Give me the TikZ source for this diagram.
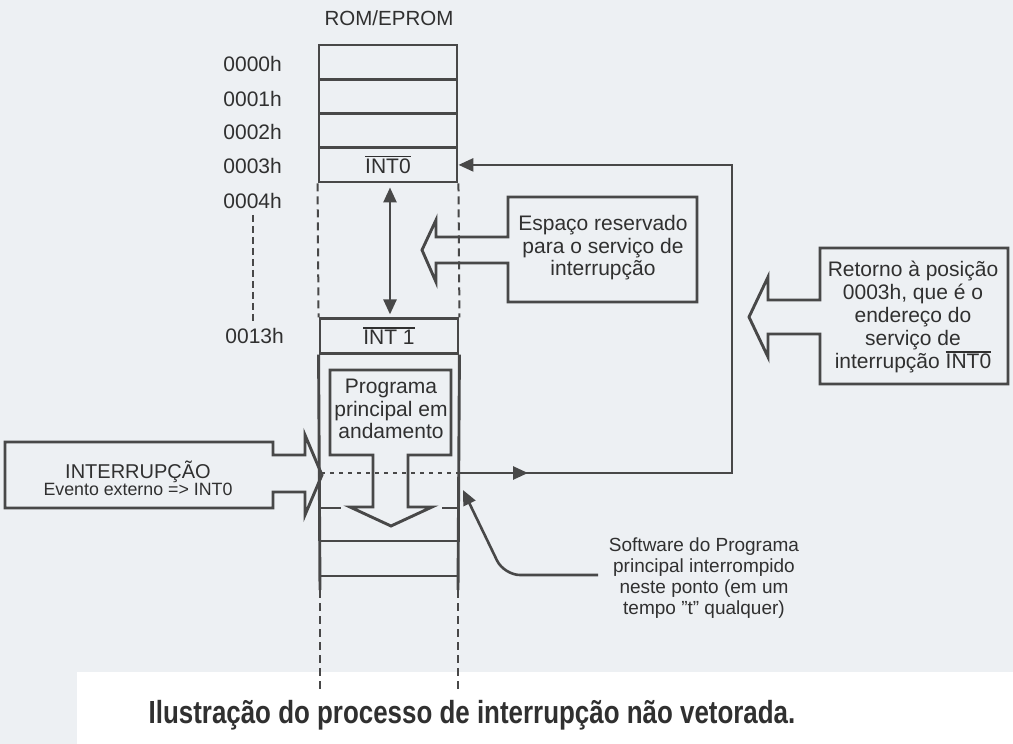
\documentclass[tikz,border=0pt]{standalone}
\usepackage{fontspec}
\setmainfont{Liberation Sans}
\newfontfamily\titlefont[FakeStretch=0.81]{Liberation Sans}
\usetikzlibrary{arrows.meta,decorations.markings}
\definecolor{bg}{RGB}{237,240,243}
\definecolor{ink}{RGB}{72,72,72}
\definecolor{txt}{RGB}{48,48,48}
\newcommand\ovl[1]{\leavevmode\vbox{\hrule height 1.4pt\kern1.6pt\hbox{#1}}}
\newcommand\sq{\symbol{34}}
\tikzset{
  conn/.style={draw=ink, line width=2.6pt},
  outline/.style={draw=ink, line width=2.9pt, line join=miter},
  memrow/.style={draw=ink, line width=2.9pt, minimum width=138pt, minimum height=34.25pt,
    inner sep=0pt, text=txt, font=\fontsize{21}{24}\selectfont},
  addr/.style={text=txt, inner sep=0pt, anchor=east, font=\fontsize{21}{24}\selectfont},
  txtbig/.style={text=txt, inner sep=0pt, align=center, font=\fontsize{21}{22.5}\selectfont},
  dashcol/.style={draw=ink, line width=2pt, dash pattern=on 8pt off 5pt},
  tip/.style={-{Triangle[length=15pt,width=13pt]}},
}
\begin{document}
\begin{tikzpicture}[x=1pt,y=-1pt]
\useasboundingbox (0,0) rectangle (1013,744);
\fill[bg] (0,0) rectangle (1013,744);
\fill[white] (77,672) rectangle (1013,744);

% title of column
\node[text=txt, inner sep=0pt, font=\fontsize{20.5}{24}\selectfont] (rom) at (389,18) {ROM/EPROM};

% upper memory rows
\node[memrow] (r0) at (388,62.1) {};
\node[memrow] (r1) at (388,96.4) {};
\node[memrow] (r2) at (388,130.6) {};
\node[memrow] (r3) at (388,164.9) {\ovl{INT0}};

% addresses
\node[addr] (a0) at (282,64) {0000h};
\node[addr] (a1) at (282,99) {0001h};
\node[addr] (a2) at (282,132) {0002h};
\node[addr] (a3) at (282,166) {0003h};
\node[addr] (a4) at (282,201) {0004h};
\node[addr] (a13) at (284,336) {0013h};
\draw[draw=ink, line width=2pt, dash pattern=on 7pt off 4pt] (a4.south -| 253,0) ++(0,6) -- (253,323);

% lower memory
\node[memrow] (i1) at (389,336) {\ovl{INT 1}};
\draw[dashcol] (r3.south west) -- (i1.north west);
\draw[dashcol] (r3.south east) -- (i1.north east);
\draw[outline] (i1.south west) -- (320,590);
\draw[outline] (i1.south east) -- (458,590);
\draw[dashcol] (320,590) -- (320,692);
\draw[dashcol] (458,590) -- (458,692);
\draw[outline] (320,541) -- (458,541);
\draw[outline] (320,576) -- (458,576);
\draw[outline] (320,508) -- (341,508);
\draw[outline] (442,508) -- (458,508);

% double arrow: reserved space
\draw[conn,{Triangle[length=15pt,width=13pt]}-{Triangle[length=15pt,width=13pt]}]
  ([yshift=-4pt]r3.south -| 390,0) -- ([yshift=3pt]i1.north -| 390,0);

% main program block arrow
\draw[outline] (330,370) -- (451,370) -- (451,455) -- (408,455) -- (408,507) -- (432,507)
  -- (391,526) -- (350,507) -- (373,507) -- (373,455) -- (330,455) -- cycle;
\node[txtbig] (prog) at (391,409) {Programa\\principal em\\andamento};

% interruption point (dotted)
\coordinate (ipt) at (458,473);
\draw[draw=ink, line width=2pt, dash pattern=on 4pt off 5pt] (321,473) -- (ipt);

% return path
\draw[conn, tip, postaction={decorate},
  decoration={markings, mark=at position 70pt with {\arrow{Triangle[length=15pt,width=13pt]}}}]
  (ipt) -- (732,473) |- (r3.east);

% callout: reserved space
\draw[outline] (697,197) -- (508,197) -- (508,237) -- (436,237) -- (436,220) -- (422,250)
  -- (436,282) -- (436,263) -- (508,263) -- (508,302) -- (697,302) -- cycle;
\node[txtbig] (esp) at (603,248) {Espaço reservado\\para o serviço de\\interrupção};

% callout: return
\draw[outline] (1008,248) -- (820,248) -- (820,300) -- (768,300) -- (768,277) -- (749,317)
  -- (768,357) -- (768,334) -- (820,334) -- (820,384) -- (1008,384) -- cycle;
\node[txtbig, font=\fontsize{21}{23.2}\selectfont] (ret) at (913,317)
  {Retorno à posição\\0003h, que é o\\endereço do\\serviço de\\interrupção \ovl{INT0}};

% callout: interruption
\draw[outline] (5,442) -- (273,442) -- (273,455) -- (305,455) -- (305,435) -- (322,475)
  -- (305,515) -- (305,492) -- (273,492) -- (273,508) -- (5,508) -- cycle;
\node[text=txt, inner sep=0pt, align=center] (intr) at (138,478)
  {{\fontsize{20}{22}\selectfont INTERRUPÇÃO}\\[-1pt]{\fontsize{17.8}{20}\selectfont Evento externo => INT0}};

% software interrupted pointer
\node[txtbig, font=\fontsize{19}{21}\selectfont] (sw) at (704,578)
  {Software do Programa\\principal interrompido\\neste ponto (em um\\tempo \sq t\sq{} qualquer)};
\coordinate (swstart) at (598,575);
\coordinate (swtip) at (463,490);
\draw[conn, tip, rounded corners=16pt] (swstart) -- (504,575) -- (swtip);

% caption
\node[text=txt, inner sep=0pt, anchor=base, font=\titlefont\bfseries\fontsize{32}{36}\selectfont] (cap) at (472,723)
  {Ilustração do processo de interrupção não vetorada.};
\end{tikzpicture}
\end{document}
